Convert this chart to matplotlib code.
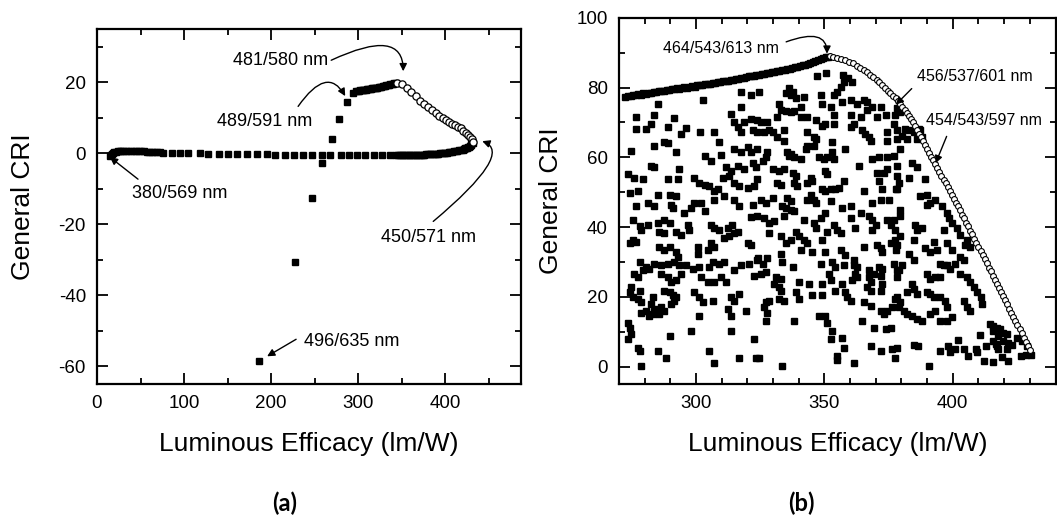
import matplotlib.pyplot as plt
from matplotlib.ticker import MultipleLocator

plt.rcParams['font.family'] = ['Liberation Sans', 'DejaVu Sans']
plt.rcParams['axes.unicode_minus'] = False

# ---------------- panel (a) data ----------------
a_hook_x = [15, 16, 17, 18.5, 20, 22, 24, 26, 28, 30, 33, 36, 39, 42, 45, 48, 51, 54, 57, 60, 63, 66, 69, 72]
a_hook_y = [-0.8, -0.4, -0.1, 0.1, 0.3, 0.4, 0.5, 0.5, 0.6, 0.6, 0.6, 0.6, 0.6, 0.6, 0.5, 0.5, 0.5, 0.5,
            0.4, 0.4, 0.4, 0.3, 0.3, 0.3]

a_base_x = [76, 86, 95, 105, 118, 128, 140, 151, 161, 172, 184, 195, 205, 216, 226, 237, 247, 258, 268,
            280, 289, 299, 308, 318, 327, 337]
a_base_y = [0.2, 0.1, 0.1, 0, 0, -0.1, -0.1, -0.2, -0.2, -0.3, -0.3, -0.3, -0.4, -0.4, -0.4, -0.5, -0.5,
            -0.5, -0.6, -0.6, -0.6, -0.6, -0.6, -0.6, -0.6, -0.6]

a_ret_x = [344, 346, 348, 350, 352, 354, 356, 358, 360, 362, 364, 366, 368, 370, 372, 374, 376, 378, 380,
           382, 384, 386, 388, 390, 392, 394, 396, 398, 400, 402, 404, 406, 408, 410, 412, 414, 416, 418, 420,
           421, 422, 423, 424, 425, 426, 427, 428, 429, 430, 431, 432]
a_ret_y = [-0.6, -0.6, -0.6, -0.6, -0.6, -0.6, -0.55, -0.55, -0.55, -0.5, -0.5, -0.5, -0.45, -0.45, -0.4,
           -0.4, -0.4, -0.35, -0.35, -0.3, -0.3, -0.25, -0.2, -0.15, -0.1, -0.05, 0, 0.05, 0.1, 0.2, 0.3,
           0.35, 0.45, 0.55, 0.6, 0.7, 0.8, 0.9, 1.0,
           1.1, 1.2, 1.35, 1.45, 1.6, 1.75, 1.9, 2.1, 2.3, 2.5, 2.75, 3.0]

a_jump_x = [186.6, 227.6, 246.7, 258.3, 269.7, 278.5, 287.0, 293.8]
a_jump_y = [-58.5, -30.5, -12.5, -2.8, 3.9, 9.6, 14.3, 16.9]

a_top_x = [298, 299.5, 301, 302.5, 304, 305.5, 307, 308.5, 310, 311.5, 313, 314.5, 316, 317.5, 319, 320.5,
           322, 323.5, 325, 326.5, 328, 329.5, 331, 332.5, 334, 335.5, 337, 338.5, 340, 341.5, 343]
a_top_y = [17.5, 17.6, 17.6, 17.7, 17.8, 17.8, 17.9, 17.9, 18.0, 18.1, 18.1, 18.2, 18.3, 18.3, 18.4, 18.5,
           18.5, 18.6, 18.7, 18.8, 18.9, 18.9, 19.0, 19.1, 19.2, 19.3, 19.4, 19.5, 19.6, 19.7, 19.8]

a_circ_x = [344.5, 350.3, 356, 361, 366.7, 371.3, 375.5, 380.1, 384.7, 388.9, 393.1, 397, 400.8, 404.6,
            408.1, 411.5, 414.6, 417.6, 420.7, 423.4, 426.1, 428.4, 430.3, 432.2]
a_circ_y = [19.9, 19.4, 18.5, 17.3, 16.0, 14.7, 13.8, 12.9, 12.1, 11.3, 10.6, 9.9, 9.3, 8.8, 8.3, 7.9,
            7.5, 7.0, 6.4, 5.8, 5.2, 4.6, 4.0, 3.3]

# ---------------- panel (b) data ----------------
b_top_x = [272.5, 273.5, 274.5, 275.5, 276.5, 277.5, 278.5, 279.5, 280.5, 281.5,
           282.5, 283.5, 284.5, 285.5, 286.5, 287.5, 288.5, 289.5, 290.5, 291.5,
           292.5, 293.5, 294.5, 295.5, 296.5, 297.5, 298.5, 299.5, 300.5, 301.5,
           302.5, 303.5, 304.5, 305.5, 306.5, 307.5, 308.5, 309.5, 310.5, 311.5,
           312.5, 313.5, 314.5, 315.5, 316.5, 317.5, 318.5, 319.5, 320.5, 321.5,
           322.5, 323.5, 324.5, 325.5, 326.5, 327.5, 328.5, 329.5, 330.5, 331.5,
           332.5, 333.5, 334.5, 335.5, 336.5, 337.5, 338.5, 339.5, 340.5, 341.5,
           342.5, 343.5, 344.5, 345.5, 346.5, 347.5, 348.5, 349.5, 350.5, 351.5]
b_top_y = [77.4, 77.7, 77.6, 77.9, 77.8, 78.1, 78.0, 78.3, 78.2, 78.5,
           78.4, 78.7, 78.6, 78.9, 79.0, 79.1, 79.3, 79.2, 79.5, 79.6,
           79.8, 79.7, 80.0, 80.1, 80.0, 80.3, 80.4, 80.3, 80.6, 80.7,
           80.8, 80.9, 81.1, 81.0, 81.3, 81.4, 81.5, 81.5, 81.8, 81.9,
           82.0, 82.2, 82.1, 82.4, 82.5, 82.7, 82.8, 82.9, 83.2, 83.3,
           83.4, 83.6, 83.7, 83.9, 84.0, 84.1, 84.3, 84.4, 84.5, 84.7,
           84.8, 84.9, 85.1, 85.2, 85.4, 85.6, 85.8, 86.0, 86.2, 86.4,
           86.6, 86.8, 87.1, 87.3, 87.6, 87.8, 88.1, 88.4, 88.7, 88.9]

b_circ_x = [352.0, 353.5, 355.0, 356.5, 358.0, 359.5, 361.0, 362.5, 364.0, 365.3,
            366.6, 367.9, 369.1, 370.3, 371.4, 372.5, 373.6, 374.7, 375.7, 376.7,
            377.7, 378.6, 379.5, 380.4, 381.2, 382.0, 382.8, 383.6, 384.4, 385.2,
            386.0, 386.8, 387.6, 388.4, 389.2, 390.0, 390.8, 391.6, 392.4, 393.2,
            394.0, 394.8, 395.6, 396.4, 397.2, 398.0, 398.8, 399.6, 400.4, 401.2,
            402.0, 402.8, 403.6, 404.4, 405.2, 406.0, 406.8, 407.6, 408.4, 409.2,
            410.0, 410.8, 411.6, 412.4, 413.2, 414.0, 414.8, 415.6, 416.4, 417.2,
            418.0, 418.8, 419.6, 420.4, 421.2, 422.0, 422.8, 423.6, 424.4, 425.2,
            426.0, 426.8, 427.6, 428.4, 429.2, 429.9]
b_circ_y = [89.0, 88.9, 88.6, 88.3, 87.9, 87.4, 86.9, 86.3, 85.7, 85.1,
            84.4, 83.7, 83.0, 82.3, 81.5, 80.7, 79.9, 79.1, 78.4, 77.7,
            76.9, 76.1, 75.3, 74.4, 73.6, 72.7, 71.8, 70.9, 70.0, 69.0,
            67.9, 66.8, 65.7, 64.6, 63.5, 62.4, 61.3, 60.2, 59.1, 58.0,
            56.9, 55.8, 54.7, 53.6, 52.5, 51.4, 50.3, 49.2, 48.1, 47.0,
            45.9, 44.8, 43.6, 42.5, 41.3, 40.2, 39.0, 37.9, 36.7, 35.5,
            34.3, 33.2, 32.0, 30.8, 29.6, 28.4, 27.3, 26.1, 24.9, 23.7,
            22.5, 21.4, 20.2, 19.0, 17.8, 16.6, 15.5, 14.3, 13.1, 11.9,
            10.7, 9.5, 8.2, 7.0, 5.8, 4.7]

# random-search combinations (x, CRI)
b_cloud = [
    (285.1, 75.4), (302.6, 76.4), (317.5, 78.8), (321.3, 77.8), (276.6, 71.6), (283.5, 72.0), (291.6, 71.3),
    (317.5, 74.5), (313.6, 72.5), (282.5, 69.6), (276.6, 68.0), (280.6, 68.0), (289.0, 68.7), (296.2, 68.4),
    (294.2, 66.7), (301.7, 67.2), (306.9, 67.2), (314.9, 70.1), (316.2, 68.7), (318.8, 70.1), (321.3, 70.9),
    (322.0, 67.7), (317.5, 67.2), (287.7, 64.3), (289.0, 64.1), (283.8, 63.3), (274.5, 61.9), (292.3, 61.6),
    (309.0, 64.3), (303.3, 60.4), (305.8, 59.0), (309.7, 60.6), (314.9, 62.4), (317.5, 61.4), (320.1, 62.9),
    (321.3, 61.4), (282.5, 57.5), (283.5, 57.1), (293.5, 56.6), (311.7, 57.1), (313.6, 56.1), (316.2, 57.5),
    (318.8, 56.6), (322.0, 58.5), (273.4, 55.1), (276.0, 54.2), (279.3, 53.7), (289.0, 53.7), (292.9, 53.7),
    (299.4, 54.2), (301.3, 52.7), (303.3, 52.2), (305.1, 51.8), (307.1, 50.3), (308.4, 50.8), (310.4, 54.2),
    (312.9, 54.7), (314.9, 52.7), (316.8, 51.8), (274.1, 49.8), (277.3, 50.3), (285.1, 49.3), (289.7, 49.3),
    (292.3, 48.9), (307.1, 47.9), (311.0, 48.9), (314.9, 47.9), (320.1, 51.3), (322.7, 51.8), (281.3, 46.9),
    (283.8, 46.0), (276.6, 46.0), (290.4, 46.4), (291.0, 45.5), (299.4, 46.9), (301.9, 46.9), (303.3, 44.5),
    (295.5, 44.0), (298.0, 45.5), (316.8, 46.0), (322.0, 46.4), (321.3, 43.0), (275.4, 42.1), (278.0, 40.2),
    (281.3, 40.6), (285.1, 41.1), (287.7, 42.1), (289.7, 41.1), (296.8, 40.6), (297.4, 39.2), (305.8, 40.6),
    (307.1, 39.7), (309.0, 39.2), (312.3, 39.7), (314.2, 40.6), (316.2, 38.7), (278.6, 39.2), (285.5, 38.5),
    (287.7, 38.2), (292.3, 38.7), (294.2, 37.7), (274.1, 35.3), (275.4, 36.3), (276.6, 35.8), (285.7, 34.3),
    (287.7, 33.4), (289.7, 34.3), (292.3, 32.9), (292.9, 31.5), (300.7, 34.3), (300.7, 32.4), (304.6, 33.4),
    (305.8, 35.3), (307.1, 34.3), (311.0, 36.8), (312.9, 37.3), (314.9, 38.2), (320.1, 35.3), (321.3, 34.8),
    (278.0, 30.0), (280.6, 28.6), (281.8, 28.1), (283.8, 29.5), (286.4, 29.0), (289.0, 29.5), (291.6, 30.0),
    (293.5, 29.0), (296.2, 29.0), (298.7, 28.1), (301.3, 28.6), (306.5, 30.0), (309.0, 29.5), (311.0, 30.0),
    (305.1, 28.6), (314.9, 27.6), (317.5, 29.0), (320.7, 29.5), (324.0, 31.0), (276.0, 26.6), (277.3, 25.7),
    (279.3, 27.6), (286.4, 26.6), (289.0, 25.7), (290.4, 24.2), (292.3, 24.7), (294.2, 26.6), (301.9, 25.7),
    (304.6, 24.2), (307.1, 24.2), (309.7, 25.7), (311.7, 24.2), (322.7, 26.1), (274.1, 21.3), (275.4, 19.9),
    (277.3, 19.4), (278.6, 18.4), (274.7, 22.8), (278.0, 21.8), (283.2, 19.9), (282.5, 17.9), (287.7, 21.8),
    (289.7, 21.3), (291.0, 20.4), (291.6, 18.9), (290.4, 17.9), (292.3, 19.9), (299.4, 21.3), (301.3, 19.9),
    (302.6, 18.4), (306.5, 18.9), (313.6, 19.9), (314.9, 18.9), (316.8, 20.8), (312.3, 16.5), (313.6, 14.6),
    (319.5, 16.0), (278.6, 15.5), (280.6, 16.0), (281.8, 14.6), (283.2, 15.0), (283.8, 16.0), (284.4, 16.5),
    (286.4, 17.0), (287.7, 16.0), (285.7, 15.0), (301.3, 14.6), (273.4, 12.6), (274.1, 11.2), (274.7, 9.2),
    (273.4, 7.8), (298.0, 10.2), (289.7, 8.8), (313.6, 10.2), (322.7, 7.8), (277.3, 5.4), (278.0, 4.4),
    (285.1, 4.6), (305.1, 4.4), (288.4, 2.5), (316.8, 2.5), (323.4, 2.5), (278.6, 0.1), (307.1, 1.0),
    (347.2, 83.2), (350.5, 84.1), (357.2, 83.6), (359.2, 82.7), (360.9, 81.7), (357.7, 81.7), (356.3, 80.3),
    (355.0, 78.8), (353.7, 77.8), (336.3, 79.8), (337.6, 78.8), (334.9, 78.3), (336.9, 77.8), (324.6, 78.8),
    (342.0, 77.4), (338.8, 76.9), (348.6, 77.8), (349.2, 75.4), (357.0, 75.9), (360.2, 76.4), (362.8, 75.4),
    (365.3, 76.4), (366.7, 75.9), (368.5, 74.5), (371.9, 74.5), (332.4, 75.4), (333.0, 73.5), (335.0, 73.2),
    (337.0, 73.0), (338.1, 73.2), (340.8, 74.5), (340.8, 71.6), (343.4, 71.6), (352.4, 74.5), (353.7, 72.0),
    (360.2, 72.0), (364.1, 71.6), (366.7, 73.5), (373.8, 72.0), (378.3, 74.0), (323.9, 70.6), (325.3, 70.1),
    (327.8, 70.1), (331.7, 71.6), (346.6, 70.6), (349.2, 69.1), (350.4, 69.6), (353.7, 69.6), (361.4, 69.6),
    (360.2, 68.7), (370.5, 71.6), (377.6, 72.0), (323.9, 67.2), (326.5, 67.2), (328.5, 67.7), (329.8, 67.2),
    (334.3, 67.7), (331.7, 65.8), (334.3, 64.8), (343.4, 67.2), (345.9, 65.8), (346.6, 65.3), (364.8, 67.7),
    (366.0, 66.7), (367.3, 65.8), (368.0, 64.8), (353.1, 64.3), (374.4, 67.2), (374.4, 64.8), (378.3, 67.7),
    (323.9, 62.4), (327.8, 61.4), (327.1, 60.0), (325.9, 59.0), (335.6, 61.4), (336.3, 60.4), (336.9, 60.9),
    (338.1, 60.0), (340.8, 59.5), (342.7, 62.4), (343.4, 63.3), (345.9, 63.3), (347.9, 60.0), (349.9, 59.5),
    (351.1, 60.0), (353.1, 61.4), (353.7, 59.5), (358.2, 62.4), (368.5, 59.5), (371.2, 60.0), (374.4, 60.0),
    (377.0, 60.4), (378.3, 57.5), (323.3, 57.1), (329.8, 56.6), (332.4, 56.1), (334.3, 56.6), (337.6, 55.6),
    (338.8, 54.7), (344.7, 54.2), (350.4, 56.1), (351.1, 55.1), (363.3, 57.5), (370.5, 55.6), (373.2, 55.6),
    (374.4, 56.6), (323.9, 53.7), (331.7, 52.7), (333.0, 52.2), (338.1, 52.7), (339.5, 51.8), (343.4, 52.7),
    (345.3, 53.2), (349.2, 50.8), (350.4, 50.3), (352.4, 50.8), (354.3, 50.8), (355.7, 51.3), (357.7, 53.2),
    (365.3, 50.3), (372.5, 50.8), (371.2, 53.2), (378.3, 50.8), (325.3, 47.9), (327.1, 46.9), (329.8, 48.4),
    (335.6, 48.4), (336.9, 47.4), (344.7, 49.3), (345.9, 47.9), (346.6, 46.9), (343.4, 47.9), (352.4, 47.4),
    (357.0, 45.5), (360.2, 46.0), (368.5, 46.9), (371.9, 47.9), (375.1, 47.9), (323.9, 43.1), (326.5, 42.6),
    (328.5, 41.1), (330.4, 41.6), (333.6, 46.0), (334.9, 45.5), (336.9, 45.0), (338.1, 44.5), (334.3, 43.1),
    (342.0, 42.1), (348.6, 42.6), (350.4, 44.0), (360.2, 42.6), (364.1, 44.0), (367.3, 43.1), (368.5, 42.1),
    (374.4, 42.1), (345.9, 41.1), (346.6, 39.7), (353.7, 40.6), (355.0, 39.2), (356.3, 38.2), (362.1, 39.7),
    (368.5, 39.2), (369.9, 40.6), (375.8, 40.6), (377.6, 39.2), (328.5, 38.2), (333.0, 37.3), (334.9, 35.3),
    (336.9, 36.3), (338.8, 38.7), (340.1, 37.3), (342.0, 36.3), (343.4, 35.3), (349.2, 36.3), (351.1, 38.7),
    (365.3, 34.4), (370.5, 34.8), (371.9, 33.9), (372.5, 32.9), (375.8, 35.3), (377.6, 36.3), (333.0, 32.4),
    (340.8, 33.4), (345.3, 32.9), (350.4, 32.9), (356.3, 33.4), (358.2, 31.9), (361.4, 30.5), (323.9, 30.5),
    (325.9, 29.5), (327.8, 31.0), (333.6, 30.0), (337.6, 28.6), (348.6, 29.5), (353.1, 30.0), (354.3, 28.6),
    (357.7, 29.0), (361.4, 29.0), (362.8, 28.6), (367.3, 27.6), (369.2, 26.6), (371.2, 28.6), (372.5, 28.1),
    (377.0, 29.5), (378.3, 27.6), (325.3, 26.6), (327.1, 27.1), (331.0, 25.7), (333.0, 25.2), (351.8, 26.6),
    (362.1, 26.6), (362.8, 25.7), (367.3, 25.7), (368.0, 24.2), (371.9, 26.1), (330.4, 23.7), (332.4, 22.8),
    (333.0, 21.8), (340.1, 24.2), (344.0, 23.7), (349.2, 23.7), (352.4, 24.7), (357.0, 23.7), (360.9, 24.7),
    (366.7, 22.8), (368.0, 21.8), (372.5, 23.7), (371.9, 21.8), (338.8, 21.3), (340.1, 19.4), (345.3, 20.4),
    (349.2, 20.4), (354.3, 21.8), (358.2, 21.3), (358.9, 19.9), (360.2, 18.9), (327.1, 18.4), (328.5, 18.9),
    (332.4, 19.4), (334.3, 18.9), (326.5, 17.0), (327.8, 15.5), (327.1, 13.1), (365.3, 18.4), (368.0, 17.5),
    (371.9, 16.0), (373.2, 15.0), (374.4, 16.0), (376.4, 17.0), (377.6, 19.4), (347.9, 14.6), (350.4, 14.6),
    (351.1, 12.6), (338.1, 13.1), (364.8, 13.1), (369.2, 11.2), (373.8, 10.7), (375.8, 11.2), (353.1, 10.2),
    (352.4, 7.8), (357.0, 8.3), (368.0, 5.9), (371.9, 4.4), (376.4, 4.9), (378.3, 5.4), (355.0, 3.0),
    (355.0, 2.0), (357.7, 5.4), (324.6, 2.5), (361.4, 1.0), (333.6, 0.1), (377.6, 2.5),
    (379.6, 73.0), (382.2, 65.3), (381.5, 68.2), (380.2, 66.2), (377.0, 69.6), (382.9, 67.7), (384.8, 67.2),
    (386.8, 68.2), (387.3, 67.7), (388.0, 65.8), (386.1, 65.3), (378.3, 65.3), (379.6, 62.4), (384.1, 58.5),
    (386.1, 57.1), (389.3, 53.7), (382.9, 54.2), (378.3, 54.7), (379.0, 52.7), (377.7, 50.8), (387.3, 48.9),
    (390.0, 49.3), (391.2, 46.9), (393.2, 47.9), (390.0, 46.4), (395.8, 46.0), (397.7, 44.0), (398.4, 42.6),
    (399.6, 41.1), (401.6, 39.7), (379.6, 45.0), (379.6, 43.1), (377.0, 42.1), (385.4, 40.6), (386.1, 39.2),
    (388.0, 39.7), (396.4, 39.2), (403.0, 37.7), (405.5, 36.3), (404.9, 34.8), (406.8, 34.4), (379.6, 37.3),
    (378.3, 34.8), (377.7, 33.4), (384.8, 36.3), (392.5, 35.8), (389.3, 33.9), (391.2, 32.9), (393.9, 33.4),
    (397.7, 35.3), (399.6, 33.4), (395.1, 29.5), (396.4, 29.0), (397.7, 29.0), (399.1, 28.1), (401.0, 29.5),
    (382.9, 32.4), (384.8, 30.5), (380.2, 29.1), (379.0, 27.6), (378.3, 25.7), (390.0, 26.6), (391.2, 25.2),
    (393.2, 25.7), (395.1, 25.7), (403.0, 26.6), (405.5, 25.7), (406.8, 24.2), (408.2, 22.8), (409.5, 21.3),
    (410.8, 19.9), (411.5, 18.0), (403.0, 31.5), (404.2, 30.5), (384.1, 23.7), (384.8, 22.3), (386.1, 20.8),
    (382.2, 21.3), (390.0, 21.3), (391.2, 20.8), (392.5, 19.9), (395.1, 19.9), (397.1, 18.9), (397.7, 17.0),
    (378.3, 19.9), (379.6, 18.4), (379.0, 17.0), (380.9, 16.0), (382.2, 15.0), (384.1, 14.6), (386.1, 13.6),
    (388.0, 13.1), (391.2, 15.0), (393.2, 16.0), (395.1, 13.1), (397.7, 13.1), (399.6, 14.1), (404.2, 18.9),
    (405.5, 17.0), (406.8, 16.0), (414.5, 12.1), (415.8, 11.7), (417.1, 11.2), (418.4, 10.7), (419.7, 9.7),
    (421.0, 9.2), (415.8, 10.2), (417.8, 8.8), (419.7, 7.3), (421.6, 6.8), (423.0, 6.3), (424.9, 8.3),
    (426.9, 7.3), (428.9, 5.9), (430.3, 3.4), (428.4, 3.4), (426.4, 3.0), (421.0, 4.9), (417.1, 5.9),
    (415.8, 7.3), (384.8, 6.3), (386.5, 5.8), (390.6, 0.3), (395.0, 4.5), (398.0, 6.0), (402.0, 7.5),
    (406.0, 3.0), (409.0, 5.0), (410.5, 9.0), (412.0, 1.5), (413.0, 6.0), (398.9, 4.1), (401.0, 5.1),
    (404.2, 5.1), (409.6, 4.1), (415.6, 1.2), (419.0, 2.7), (421.6, 1.7), (417.0, 6.6), (417.5, 5.1),
]
b_cloud_x = [p[0] for p in b_cloud]
b_cloud_y = [p[1] for p in b_cloud]

# ---------------- figure ----------------
W, H = 1057, 521
fig = plt.figure(figsize=(W / 100, H / 100), dpi=100)
axa = fig.add_axes([97 / W, 1 - 384 / H, 424 / W, 355 / H])
axb = fig.add_axes([619 / W, 1 - 384 / H, 436.5 / W, 366.2 / H])


def style(ax):
    for s in ax.spines.values():
        s.set_linewidth(1.6)
    ax.tick_params(which='both', direction='in', top=True, right=True, width=1.3,
                   labelsize=13.5, pad=8, colors='black')
    ax.tick_params(which='major', length=8)
    ax.tick_params(which='minor', length=4)


sq = dict(ls='none', marker='s', color='black', mec='black')
circ = dict(ls='none', marker='o', mfc='white', mec='black')
arrow = dict(arrowstyle='-|>', color='black', lw=1.0, shrinkA=0, shrinkB=0, mutation_scale=11)

# ---- (a)
axa.plot(a_hook_x, a_hook_y, ms=3.8, **sq)
axa.plot(a_base_x, a_base_y, ms=3.8, **sq)
axa.plot(a_ret_x, a_ret_y, ms=3.8, **sq)
axa.plot(a_jump_x, a_jump_y, ms=3.8, **sq)
axa.plot(a_top_x, a_top_y, ms=3.8, **sq)
axa.plot(a_circ_x, a_circ_y, ms=5.2, mew=0.9, **circ)

axa.set_xlim(0, 487)
axa.set_ylim(-65, 35)
axa.xaxis.set_major_locator(MultipleLocator(100))
axa.xaxis.set_minor_locator(MultipleLocator(50))
axa.yaxis.set_major_locator(MultipleLocator(20))
axa.yaxis.set_minor_locator(MultipleLocator(10))
style(axa)
axa.set_xlabel('Luminous Efficacy (lm/W)', fontsize=19)
axa.set_ylabel('General CRI', fontsize=19)
axa.xaxis.set_label_coords(0.5, -0.135)
axa.yaxis.set_label_coords(-0.147, 0.5)

fs_a = 13
axa.text(210.3, 26.2, '481/580 nm', fontsize=fs_a, ha='center', va='center')
axa.text(193.1, 9.0, '489/591 nm', fontsize=fs_a, ha='center', va='center')
axa.text(95.4, -11.3, '380/569 nm', fontsize=fs_a, ha='center', va='center')
axa.text(380.5, -23.7, '450/571 nm', fontsize=fs_a, ha='center', va='center')
axa.text(292.0, -53.0, '496/635 nm', fontsize=fs_a, ha='center', va='center')
axa.annotate('', xy=(351.7, 23.1), xytext=(269.0, 26.2),
             arrowprops=dict(connectionstyle='angle3,angleA=25,angleB=90', **arrow))
axa.annotate('', xy=(285.1, 16.1), xytext=(231.0, 13.2),
             arrowprops=dict(connectionstyle='angle3,angleA=55,angleB=120', **arrow))
axa.annotate('', xy=(14.9, -1.1), xytext=(47.1, -7.3), arrowprops=arrow)
axa.annotate('', xy=(442.5, 3.4), xytext=(386.2, -19.2),
             arrowprops=dict(connectionstyle='angle3,angleA=40,angleB=160', **arrow))
axa.annotate('', xy=(195.4, -57.2), xytext=(228.7, -52.4), arrowprops=arrow)

# ---- (b)
axb.plot(b_cloud_x, b_cloud_y, ms=3.8, **sq)
axb.plot(b_top_x, b_top_y, ms=3.8, **sq)
axb.plot(b_circ_x, b_circ_y, ms=4.2, mew=0.8, **circ)

axb.set_xlim(270, 440)
axb.set_ylim(-5, 100)
axb.xaxis.set_major_locator(MultipleLocator(50))
axb.xaxis.set_minor_locator(MultipleLocator(10))
axb.yaxis.set_major_locator(MultipleLocator(20))
axb.yaxis.set_minor_locator(MultipleLocator(10))
style(axb)
axb.set_xlabel('Luminous Efficacy (lm/W)', fontsize=19)
axb.set_ylabel('General CRI', fontsize=19)
axb.xaxis.set_label_coords(0.5, -0.131)
axb.yaxis.set_label_coords(-0.128, 0.5)

fs_b = 11.5
axb.text(309.6, 91.2, '464/543/613 nm', fontsize=fs_b, ha='center', va='center')
axb.text(408.7, 83.1, '456/537/601 nm', fontsize=fs_b, ha='center', va='center')
axb.text(412.0, 70.6, '454/543/597 nm', fontsize=fs_b, ha='center', va='center')
axb.annotate('', xy=(351.0, 89.7), xytext=(335.1, 93.1),
             arrowprops=dict(connectionstyle='angle3,angleA=20,angleB=90', **arrow))
axb.annotate('', xy=(377.8, 75.1), xytext=(384.0, 79.7), arrowprops=arrow)
axb.annotate('', xy=(393.3, 58.3), xytext=(397.6, 66.0), arrowprops=arrow)

# panel letters
fig.text(285 / W, 1 - 503 / H, '(a)', fontsize=17, fontweight='bold', family=['Lato', 'DejaVu Sans'],
         ha='center', va='center')
fig.text(801 / W, 1 - 503 / H, '(b)', fontsize=17, fontweight='bold', family=['Lato', 'DejaVu Sans'],
         ha='center', va='center')

fig.savefig('out.png', dpi=100)
